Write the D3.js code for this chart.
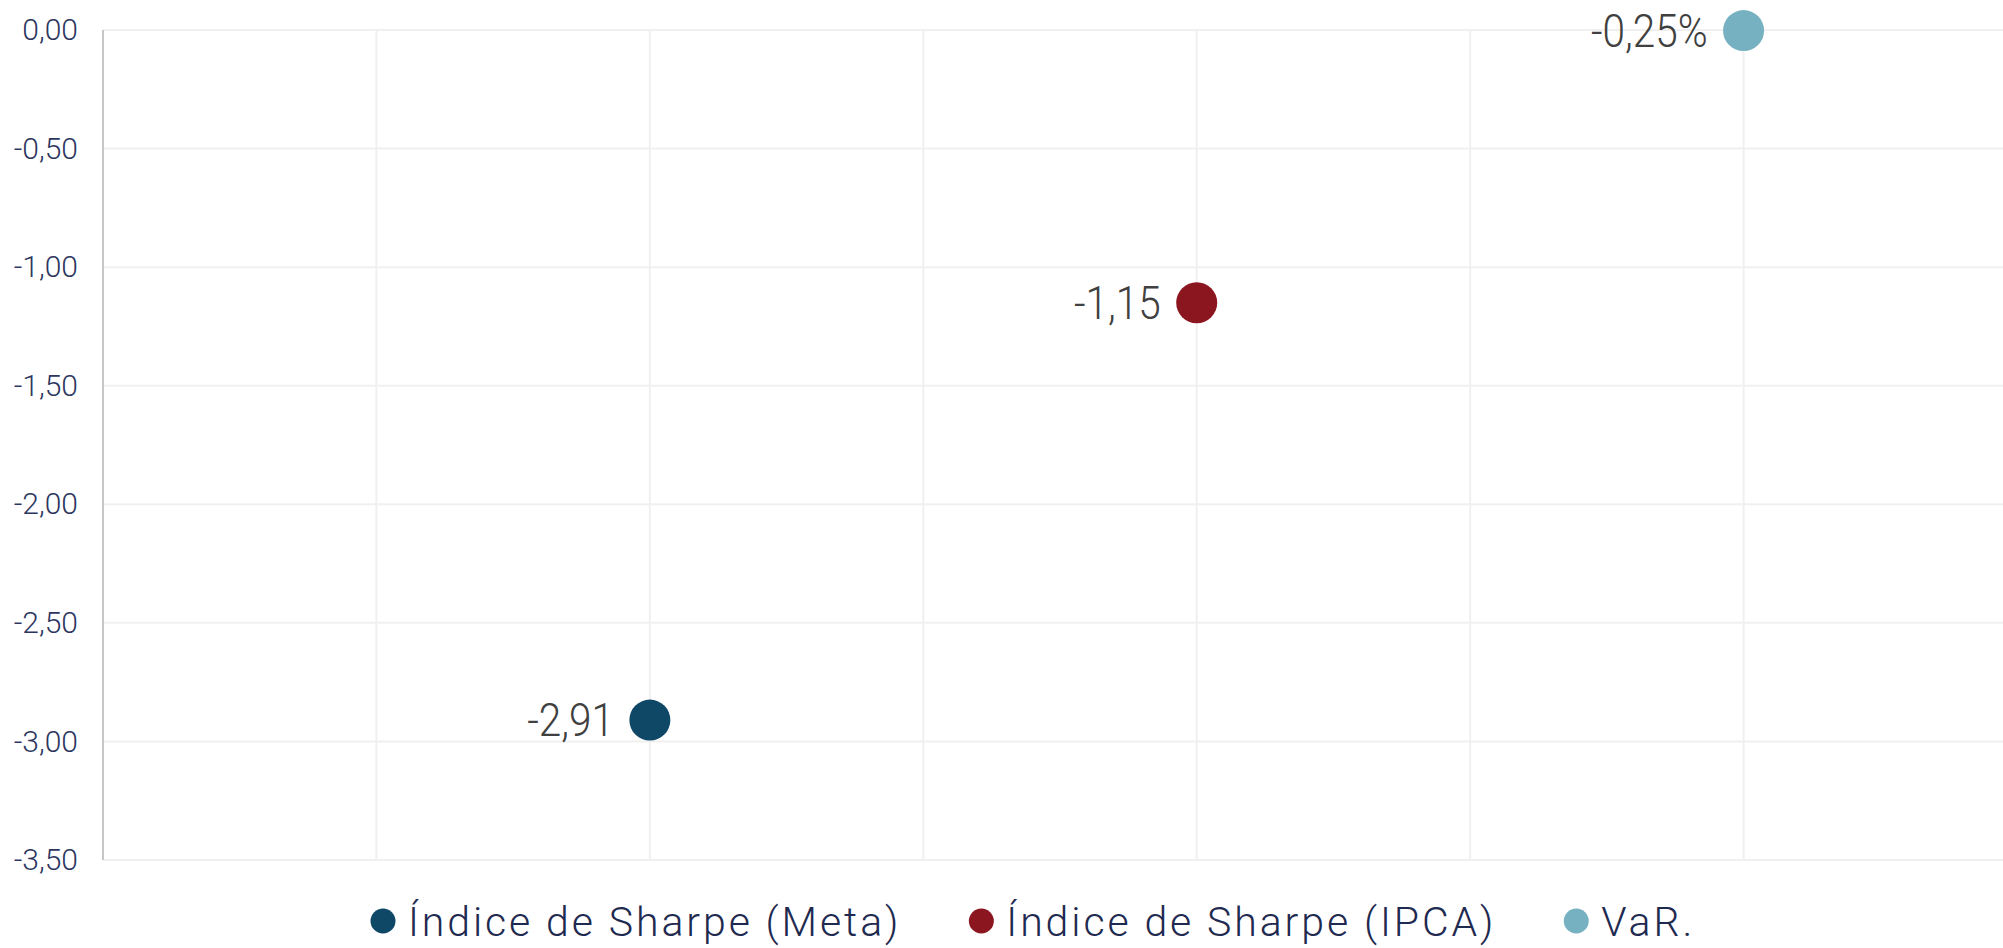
<!DOCTYPE html>
<html>
<head>
<meta charset="utf-8">
<script src="https://cdn.jsdelivr.net/npm/d3@7"></script>
<style>
  html, body { margin: 0; padding: 0; background: #fff; }
  svg { display: block; font-family: Roboto, "Open Sans", sans-serif; }
</style>
</head>
<body>
<figure id="chart" style="margin:0"></figure>
<script>
// series (x position is the category slot on a 0..7 linear axis)
const seriesNames = ["Índice de Sharpe (Meta)", "Índice de Sharpe (IPCA)", "VaR."];
const seriesX = [2, 4, 6];
const seriesValues = [-2.91, -1.15, -0.0025];
const seriesFormats = ["num", "num", "pct"];
const seriesColors = ["#0f4766", "#8c1620", "#76b1c2"];
const yTicks = [0, -0.5, -1, -1.5, -2, -2.5, -3, -3.5];
const xGrid = [1, 2, 3, 4, 5, 6];

const width = 2003, height = 948;
const margin = { top: 30, right: -14, bottom: 88, left: 103 };

const locale = d3.formatLocale({ decimal: ",", thousands: ".", grouping: [3], currency: ["R$", ""], minus: "-" });
const fmtNum = locale.format(".2f");
const fmtPct = locale.format(".2%");

const svg = d3.select("figure#chart")
  .append("svg")
  .attr("width", width)
  .attr("height", height);

const x = d3.scaleLinear()
  .domain([0, 7])
  .range([margin.left, width - margin.right]);

const y = d3.scaleLinear()
  .domain([-3.5, 0])
  .range([height - margin.bottom, margin.top]);

// horizontal grid
svg.append("g")
  .selectAll("line")
  .data(yTicks)
  .enter()
  .append("line")
  .attr("x1", margin.left)
  .attr("x2", width)
  .attr("y1", d => y(d))
  .attr("y2", d => y(d))
  .attr("stroke", "#f0f0f0")
  .attr("stroke-width", 2);

// vertical grid
svg.append("g")
  .selectAll("line")
  .data(xGrid)
  .enter()
  .append("line")
  .attr("x1", d => x(d))
  .attr("x2", d => x(d))
  .attr("y1", y(0))
  .attr("y2", y(-3.5))
  .attr("stroke", "#f0f0f0")
  .attr("stroke-width", 2);

// y axis
const yAxis = svg.append("g")
  .attr("transform", "translate(" + margin.left + ",0)")
  .call(d3.axisLeft(y).tickValues(yTicks).tickFormat(fmtNum).tickSize(0).tickPadding(25));
yAxis.select(".domain").remove();
yAxis.selectAll("text")
  .attr("font-size", 30)
  .attr("font-weight", 300)
  .attr("fill", "#2c3660")
  .attr("font-family", "Roboto, sans-serif");

svg.append("line")
  .attr("x1", margin.left)
  .attr("x2", margin.left)
  .attr("y1", y(0))
  .attr("y2", y(-3.5))
  .attr("stroke", "#c6c6c6")
  .attr("stroke-width", 2);

const points = seriesNames.map((name, i) => ({
  name, x: seriesX[i], value: seriesValues[i], fmt: seriesFormats[i], color: seriesColors[i]
}));

// points
svg.append("g")
  .selectAll("circle")
  .data(points)
  .enter()
  .append("circle")
  .attr("cx", d => x(d.x))
  .attr("cy", d => y(d.value))
  .attr("r", 20.5)
  .attr("fill", d => d.color);

// data labels
svg.append("g")
  .selectAll("text")
  .data(points)
  .enter()
  .append("text")
  .attr("transform", d => "translate(" + (x(d.x) - 36) + "," + y(d.value) + ") scale(0.88,1)")
  .attr("text-anchor", "end")
  .attr("dy", "0.35em")
  .attr("font-size", 46)
  .attr("font-weight", 300)
  .attr("fill", "#404040")
  .text(d => d.fmt === "pct" ? fmtPct(d.value) : fmtNum(d.value));

// legend
const legend = svg.append("g");
let lx = 383;
const ly = 921;
points.forEach(d => {
  legend.append("circle")
    .attr("cx", lx)
    .attr("cy", ly)
    .attr("r", 12.5)
    .attr("fill", d.color);
  const t = legend.append("text")
    .attr("x", lx + 25)
    .attr("y", ly + 15)
    .attr("font-size", 41)
    .attr("font-weight", 300)
    .attr("letter-spacing", 2.9)
    .attr("fill", "#1f2a50")
    .text(d.name);
  lx += 25 + t.node().getComputedTextLength() + 80;
});
</script>
</body>
</html>
